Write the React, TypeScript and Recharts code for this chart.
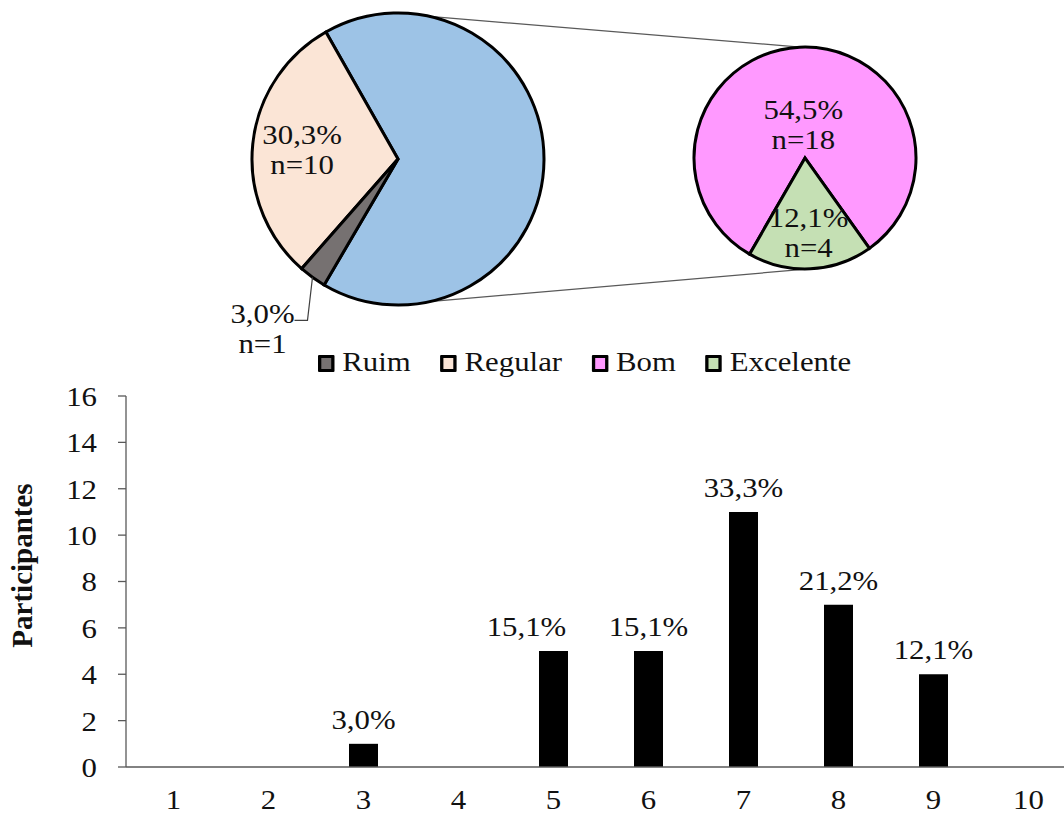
import {Bar, BarChart, Cell, LabelList, Pie, PieChart, XAxis, YAxis} from "recharts";

const classes = ['Ruim', 'Regular', 'Bom', 'Excelente'];
const classCounts = [1, 10, 18, 4];
const classPct = ['3,0%', '30,3%', '54,5%', '12,1%'];
const classColors = ['#767171', '#FBE5D6', '#FF99FF', '#C5E0B4'];
const otherColor = '#9DC3E6';

const scores = ['1', '2', '3', '4', '5', '6', '7', '8', '9', '10'];
const participants = [0, 0, 1, 0, 5, 5, 11, 7, 4, 0];
const participantPct = ['', '', '3,0%', '', '15,1%', '15,1%', '33,3%', '21,2%', '12,1%', ''];
const yTicks = [0, 2, 4, 6, 8, 10, 12, 14, 16];

const font = "'Liberation Serif', 'Times New Roman', serif";
const RAD = Math.PI / 180;
const SX = 1.1; // the source text is a bit wider than Times

const MAIN = {cx: 398, cy: 159, r: 146};
const SUB = {cx: 805, cy: 158, r: 111};

// main pie: Bom + Excelente grouped, then Regular, Ruim
const mainData = [
  {name: 'Bom + Excelente', value: classCounts[2] + classCounts[3], pct: '', n: 0, fill: otherColor},
  {name: classes[1], value: classCounts[1], pct: classPct[1], n: classCounts[1], fill: classColors[1]},
  {name: classes[0], value: classCounts[0], pct: classPct[0], n: classCounts[0], fill: classColors[0]},
];
const subData = [
  {name: classes[2], value: classCounts[2], pct: classPct[2], n: classCounts[2], fill: classColors[2]},
  {name: classes[3], value: classCounts[3], pct: classPct[3], n: classCounts[3], fill: classColors[3]},
];

const barData = scores.map((s, i) => ({score: s, n: participants[i], pct: participantPct[i]}));

const labelRadius: Record<string, number> = {Regular: 0.66, Bom: 0.31, Excelente: 0.67};
// label of score 5 was dragged to the left in the original
const barLabelShift: Record<string, number> = {'5': -27};

const SText = ({x, y, anchor = 'middle', size = 28, dy, children}: any) => (
  <text x={x} y={y} dy={dy} textAnchor={anchor} fontFamily={font} fontSize={size} fill="#111"
        transform={`matrix(${SX},0,0,1,${(1 - SX) * x},0)`}>{children}</text>
);

const pieLabel = (p: any) => {
  const {cx, cy, midAngle, outerRadius, payload} = p;
  const item = payload?.payload ?? payload;
  if (!item || !item.pct) return null;
  const a = -midAngle * RAD;
  if (item.name === 'Ruim') {
    const sx = cx + outerRadius * Math.cos(a);
    const sy = cy + outerRadius * Math.sin(a);
    const ey = sy + 43;
    const tx = sx - 50;
    return (
      <g>
        <polyline points={`${sx},${sy} ${sx - 5},${ey} ${sx - 18},${ey}`} fill="none" stroke="#404040"
                  strokeWidth={1.2}/>
        <SText x={tx} y={ey + 3}>{item.pct}</SText>
        <SText x={tx} y={ey + 33}>n={item.n}</SText>
      </g>
    );
  }
  const rr = outerRadius * (labelRadius[item.name] ?? 0.6);
  const x = cx + rr * Math.cos(a);
  const y = cy + rr * Math.sin(a);
  return (
    <g>
      <SText x={x} y={y - 5}>{item.pct}</SText>
      <SText x={x} y={y + 25}>n={item.n}</SText>
    </g>
  );
};

const barLabel = (p: any) => {
  const {x, y, width, value} = p;
  const pct = participantPct[scores.indexOf(String(value))];
  if (!pct) return null;
  return <SText x={x + width / 2 + (barLabelShift[String(value)] ?? 0)} y={y - 15}>{pct}</SText>;
};

const pt = (c: { cx: number, cy: number, r: number }, deg: number) => ({
  x: c.cx + c.r * Math.cos(deg * RAD),
  y: c.cy - c.r * Math.sin(deg * RAD),
});

const Connectors = () => {
  const a1 = pt(MAIN, 77.6), b1 = pt(SUB, 92.5);
  const a2 = pt(MAIN, -77.6), b2 = pt(SUB, -88);
  return (
    <svg width={1064} height={380} style={{position: 'absolute', left: 0, top: 0}}>
      <line x1={a1.x} y1={a1.y} x2={b1.x} y2={b1.y} stroke="#595959" strokeWidth={1.2}/>
      <line x1={a2.x} y1={a2.y} x2={b2.x} y2={b2.y} stroke="#595959" strokeWidth={1.2}/>
    </svg>
  );
};

const Legend = () => (
  <div style={{
    position: 'absolute', left: 318, top: 346, display: 'flex', gap: 27, fontFamily: font,
    fontSize: 28, lineHeight: '32px', color: '#111', transform: `scaleX(${SX})`, transformOrigin: 'left center'
  }}>
    {classes.map((c, i) => (
      <div key={c} style={{display: 'flex', alignItems: 'center'}}>
        <span style={{
          width: 9, height: 11, border: '3px solid #000', background: classColors[i],
          marginRight: 7, marginTop: 2, borderRadius: 1
        }}/>
        <span>{c}</span>
      </div>
    ))}
  </div>
);

const YLabel = (props: any) => {
  const vb = props.viewBox || {x: 0, y: 396, width: 126, height: 371};
  const x = vb.x + 32;
  const y = vb.y + vb.height / 2 - 16;
  return (
    <text x={x} y={y} transform={`rotate(-90, ${x}, ${y})`} textAnchor="middle" fontFamily={font}
          fontSize={29} fontWeight="bold" fill="#111">Participantes</text>
  );
};

const XTick = (p: any) => <SText x={p.x} y={p.y} dy="0.71em">{p.payload.value}</SText>;
const YTick = (p: any) => <SText x={p.x} y={p.y} dy="0.355em" anchor="end">{p.payload.value}</SText>;

export default function App() {
  return (
    <div style={{
      position: 'absolute', left: 0, top: 0, width: 1064, height: 815, overflow: 'hidden',
      background: '#fff', fontFamily: font
    }}>
      <Connectors/>
      <div style={{position: 'absolute', left: 0, top: 0}}>
        <PieChart width={1064} height={380} margin={{top: 0, right: 0, bottom: 0, left: 0}}>
          <Pie data={mainData} dataKey="value" cx={MAIN.cx} cy={MAIN.cy} outerRadius={MAIN.r}
               startAngle={-120.4} endAngle={239.6} stroke="#000" strokeWidth={3} label={pieLabel}
               labelLine={false} isAnimationActive={false}>
            {mainData.map(d => <Cell key={d.name} fill={d.fill}/>)}
          </Pie>
          <Pie data={subData} dataKey="value" cx={SUB.cx} cy={SUB.cy} outerRadius={SUB.r}
               startAngle={-54.5} endAngle={305.5} stroke="#000" strokeWidth={3} label={pieLabel}
               labelLine={false} isAnimationActive={false}>
            {subData.map(d => <Cell key={d.name} fill={d.fill}/>)}
          </Pie>
        </PieChart>
      </div>
      <Legend/>
      <div style={{position: 'absolute', left: 0, top: 380}}>
        <BarChart width={1080} height={435} data={barData} margin={{top: 16, right: 4, left: 0, bottom: 0}}>
          <XAxis dataKey="score" interval={0} height={48} tickLine={false} tickSize={0} tickMargin={22}
                 axisLine={{stroke: '#595959', strokeWidth: 1.3}} tick={<XTick/>}/>
          <YAxis domain={[0, 16]} ticks={yTicks} width={126} tickSize={8} tickMargin={21} interval={0}
                 axisLine={{stroke: '#595959', strokeWidth: 1.3}} tickLine={{stroke: '#595959', strokeWidth: 1.3}}
                 tick={<YTick/>} label={<YLabel/>}/>
          <Bar dataKey="n" fill="#000" barSize={29} isAnimationActive={false}>
            <LabelList dataKey="score" content={barLabel}/>
          </Bar>
        </BarChart>
      </div>
    </div>
  );
}
